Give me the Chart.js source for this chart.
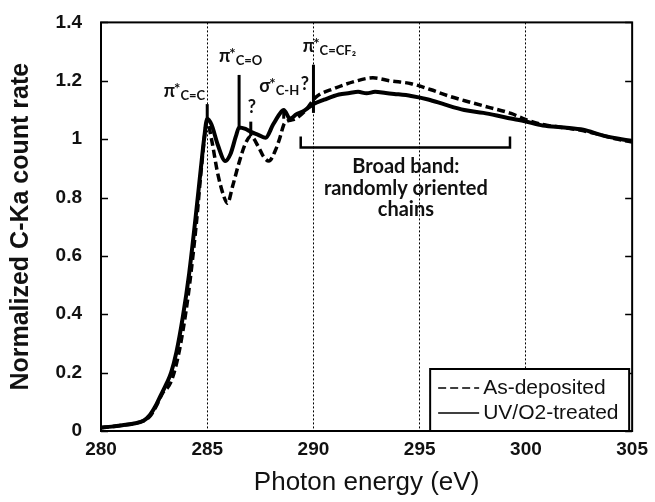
<!DOCTYPE html>
<html>
<head>
<meta charset="utf-8">
<script src="https://cdn.jsdelivr.net/npm/chart.js@4/dist/chart.umd.min.js"></script>
<style>
  html, body { margin: 0; padding: 0; background: #fff; }
  #wrap { width: 655px; height: 502px; }
</style>
</head>
<body>
<div id="wrap"><canvas id="nexafs"></canvas></div>
<script>
// C K-edge spectra, photon energy (eV) vs normalized count rate
const asDepEnergy = [280, 280.5, 281, 281.5, 282, 282.3, 282.6, 282.9, 283.2, 283.4, 283.7, 284.0, 284.2, 284.5, 284.75, 285.0,
    285.2, 285.5, 285.8, 285.95, 286.2, 286.5, 286.8, 287.05, 287.4, 287.65, 287.9, 288.2, 288.4, 288.65, 289.05, 289.6,
    290.1, 291.0, 292.0, 292.8, 293.6, 294.6, 295.5, 296.4, 297.4, 298.3, 299.3, 300.0, 300.8, 301.7, 302.6, 303.5, 304.3, 305];
const asDeposited = [0.012, 0.015, 0.02, 0.025, 0.035, 0.05, 0.085, 0.13, 0.155, 0.19, 0.28, 0.41, 0.52, 0.72, 0.92, 1.06,
    1.0, 0.88, 0.8, 0.78, 0.84, 0.92, 0.985, 1.01, 0.975, 0.94, 0.925, 0.96, 1.0, 1.056, 1.067, 1.096,
    1.143, 1.174, 1.199, 1.21, 1.2, 1.19, 1.17, 1.147, 1.126, 1.108, 1.088, 1.067, 1.05, 1.04, 1.03, 1.015, 1.0, 0.99];

const uvEnergy = [280, 280.5, 281, 281.5, 282, 282.3, 282.6, 282.8, 283.1, 283.3, 283.55, 283.85, 284.15, 284.45, 284.7, 284.85,
    285.0, 285.2, 285.5, 285.85, 286.1, 286.35, 286.5, 286.8, 287.05, 287.4, 287.75, 288.1, 288.5, 288.6, 288.9, 289.2,
    289.5, 289.8, 290.0, 290.5, 291.2, 291.7, 292.1, 292.5, 292.9, 293.4, 293.8, 294.6, 295.4, 296.2, 297.1, 298.0,
    299.0, 299.9, 300.8, 301.8, 302.7, 303.6, 304.3, 305];
const uvTreated = [0.012, 0.015, 0.02, 0.025, 0.035, 0.055, 0.09, 0.12, 0.165, 0.2, 0.27, 0.39, 0.54, 0.73, 0.9, 1.0,
    1.07, 1.05, 0.98, 0.925, 0.95, 1.01, 1.04, 1.035, 1.025, 1.015, 1.005, 1.05, 1.095, 1.1, 1.07, 1.085,
    1.095, 1.11, 1.12, 1.135, 1.153, 1.158, 1.162, 1.157, 1.162, 1.158, 1.155, 1.148, 1.136, 1.118, 1.1, 1.09,
    1.075, 1.062, 1.047, 1.04, 1.032, 1.013, 1.002, 0.993];

const seriesNames = ['As-deposited', 'UV/O2-treated'];

// resonance markers: energy, bottom and top of the vertical bar
const markEnergy = [285, 286.5, 287.05, 288.6, 290];
const markLow = [1.06, 1.04, 1.01, 1.07, 1.09];
const markHigh = [1.12, 1.22, 1.06, 1.10, 1.255];

const xTicks = [280, 285, 290, 295, 300, 305];
const yTicks = [0, 0.2, 0.4, 0.6, 0.8, 1, 1.2, 1.4];

const toPts = (xs, ys) => xs.map((x, i) => ({ x: x, y: ys[i] }));

const labelFont = '"Lato", "DejaVu Sans", sans-serif';

// peak labels: main glyph, superscript, subscript, anchor (eV, value), align
const peakLabels = [
    { main: 'π', sup: '*', sub: 'C=C', x: 284.95, y: 1.146, align: 'right' },
    { main: 'π', sup: '*', sub: 'C=O', x: 285.55, y: 1.266, align: 'left' },
    { main: 'σ', sup: '*', sub: 'C-H', x: 287.45, y: 1.16, align: 'left' },
    { main: 'π', sup: '*', sub: 'C=CF₂', x: 289.5, y: 1.30, align: 'left' },
    { main: '?', sup: '', sub: '', x: 287.1, y: 1.09, align: 'center' },
    { main: '?', sup: '', sub: '', x: 289.6, y: 1.17, align: 'center' }
];

const annotate = {
    id: 'annotate',
    afterDatasetsDraw(chart) {
        const { ctx, scales: { x, y } } = chart;
        ctx.save();

        // marker bars
        ctx.strokeStyle = '#000';
        ctx.lineWidth = 3;
        markEnergy.forEach((e, i) => {
            const px = x.getPixelForValue(e);
            ctx.beginPath();
            ctx.moveTo(px, y.getPixelForValue(markLow[i]));
            ctx.lineTo(px, y.getPixelForValue(markHigh[i]));
            ctx.stroke();
        });

        // peak labels
        ctx.fillStyle = '#111';
        ctx.textBaseline = 'alphabetic';
        peakLabels.forEach(l => {
            const mainF = 'bold 18px ' + labelFont;
            const supF = 'bold 15px ' + labelFont;
            const subF = 'bold 13px ' + labelFont;
            ctx.font = mainF; const wm = ctx.measureText(l.main).width;
            ctx.font = supF; const ws = ctx.measureText(l.sup).width;
            ctx.font = subF; const wb = ctx.measureText(l.sub).width;
            const total = wm + ws + wb;
            let px = x.getPixelForValue(l.x);
            const py = y.getPixelForValue(l.y);
            if (l.align === 'right') px -= total;
            if (l.align === 'center') px -= total / 2;
            ctx.textAlign = 'left';
            ctx.font = mainF; ctx.fillText(l.main, px, py);
            ctx.font = supF; ctx.fillText(l.sup, px + wm - 1, py - 3);
            ctx.font = subF; ctx.fillText(l.sub, px + wm + ws - 1, py + 3);
        });

        // broad band bracket
        const bx0 = x.getPixelForValue(289.4), bx1 = x.getPixelForValue(299.25);
        const by = y.getPixelForValue(0.971), byTop = y.getPixelForValue(1.009);
        ctx.lineWidth = 2.5;
        ctx.beginPath();
        ctx.moveTo(bx0, byTop); ctx.lineTo(bx0, by); ctx.lineTo(bx1, by); ctx.lineTo(bx1, byTop);
        ctx.stroke();
        ctx.font = 'bold 20px ' + labelFont;
        ctx.textAlign = 'center';
        ctx.textBaseline = 'middle';
        const cx = x.getPixelForValue(294.35);
        ctx.fillText('Broad band:', cx, y.getPixelForValue(0.906));
        ctx.fillText('randomly oriented', cx, y.getPixelForValue(0.83));
        ctx.fillText('chains', cx, y.getPixelForValue(0.758));

        ctx.restore();
    },
    afterDraw(chart) {
        const { ctx, chartArea: a, scales: { y } } = chart;
        ctx.save();
        // frame
        ctx.strokeStyle = '#000';
        ctx.lineWidth = 2;
        ctx.strokeRect(a.left, a.top, a.right - a.left, a.bottom - a.top);
        // inward y ticks on both sides
        ctx.lineWidth = 1.5;
        yTicks.forEach(v => {
            const py = Math.round(y.getPixelForValue(v)) + 0.5;
            ctx.beginPath();
            ctx.moveTo(a.left, py); ctx.lineTo(a.left + 7, py);
            ctx.moveTo(a.right, py); ctx.lineTo(a.right - 7, py);
            ctx.stroke();
        });

        // legend box in the lower right corner
        const w = 199, h = 62;
        const lx = a.right - w - 3, ly = a.bottom - h;
        ctx.fillStyle = '#fff';
        ctx.fillRect(lx, ly, w, h);
        ctx.lineWidth = 2;
        ctx.strokeRect(lx, ly, w, h);
        ctx.font = '21px "Liberation Sans", Arial, sans-serif';
        ctx.textBaseline = 'middle';
        ctx.textAlign = 'left';
        ctx.fillStyle = '#111';
        chart.data.datasets.forEach((ds, i) => {
            const rowY = ly + 19 + i * 25;
            ctx.strokeStyle = '#000';
            ctx.lineWidth = 1.5;
            ctx.setLineDash(ds.borderDash || []);
            ctx.beginPath();
            ctx.moveTo(lx + 8, rowY); ctx.lineTo(lx + 49, rowY);
            ctx.stroke();
            ctx.setLineDash([]);
            ctx.fillText(ds.label, lx + 53, rowY);
        });
        ctx.restore();
    }
};

const axisFont = { family: '"Liberation Sans", Arial, sans-serif', size: 19, weight: 'bold' };

new Chart(document.getElementById('nexafs'), {
    type: 'line',
    data: {
        datasets: [{
            label: seriesNames[0],
            data: toPts(asDepEnergy, asDeposited),
            borderColor: '#000',
            borderWidth: 3.5,
            borderDash: [8, 4],
            pointRadius: 0,
            cubicInterpolationMode: 'monotone',
            fill: false
        }, {
            label: seriesNames[1],
            data: toPts(uvEnergy, uvTreated),
            borderColor: '#000',
            borderWidth: 4,
            pointRadius: 0,
            cubicInterpolationMode: 'monotone',
            fill: false
        }]
    },
    options: {
        responsive: true,
        maintainAspectRatio: false,
        animation: false,
        layout: { padding: { left: 0, right: 19, top: 22, bottom: 0 } },
        plugins: { legend: { display: false }, tooltip: { enabled: false } },
        scales: {
            x: {
                type: 'linear',
                min: 280, max: 305,
                afterBuildTicks: s => { s.ticks = xTicks.map(v => ({ value: v })); },
                afterFit: s => { s.height = 71; },
                ticks: { font: axisFont, color: '#111', padding: 7 },
                grid: { color: '#000', lineWidth: 1, drawTicks: false },
                border: { display: false, dash: [2, 2] },
                title: {
                    display: true, text: 'Photon energy (eV)', color: '#111',
                    font: { family: '"Liberation Sans", Arial, sans-serif', size: 26 },
                    padding: { top: 0, bottom: 4 }
                }
            },
            y: {
                min: 0, max: 1.4,
                afterBuildTicks: s => { s.ticks = yTicks.map(v => ({ value: v })); },
                afterFit: s => { s.width = 101; },
                ticks: { font: axisFont, color: '#111', padding: 11, callback: v => String(+v.toFixed(1)) },
                grid: { display: false },
                border: { display: false },
                title: {
                    display: true, text: 'Normalized C-Ka count rate', color: '#111',
                    font: { family: '"Liberation Sans", Arial, sans-serif', size: 25, weight: 'bold' },
                    padding: { top: 6, bottom: 0 }
                }
            }
        }
    },
    plugins: [annotate]
});
</script>
</body>
</html>
